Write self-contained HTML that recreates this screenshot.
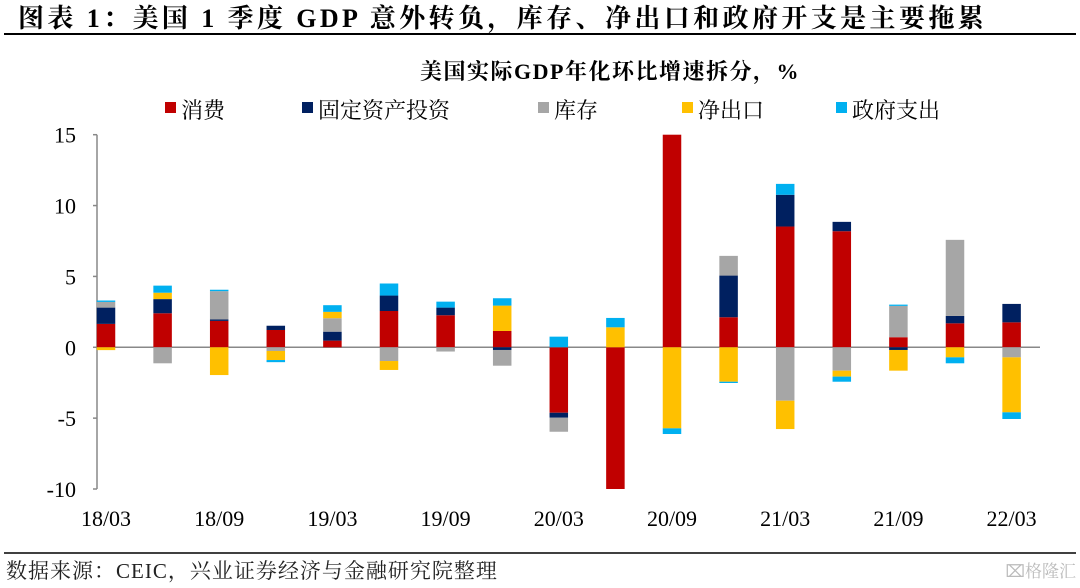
<!DOCTYPE html>
<html><head><meta charset="utf-8"><style>
body{margin:0;background:#fff;width:1080px;height:583px;overflow:hidden;font-family:"Liberation Serif","Noto Serif CJK SC",serif;}
</style></head><body>
<svg id="chart" width="1080" height="583" xmlns="http://www.w3.org/2000/svg" font-family="'Liberation Serif','Noto Serif CJK SC',serif">
<text x="18" y="27" font-size="26" font-weight="bold" letter-spacing="3.4" fill="#000">图表 1：美国 1 季度 GDP 意外转负，库存、净出口和政府开支是主要拖累</text>
<line x1="4" y1="34" x2="1076" y2="34" stroke="#000" stroke-width="2"/>
<text x="610" y="79" font-size="22" font-weight="bold" letter-spacing="1.5" text-anchor="middle">美国实际GDP年化环比增速拆分，%</text>
<g id="legend"></g>
<g id="axes"></g>
<g id="bars"></g>
<line x1="4" y1="553" x2="1076" y2="553" stroke="#000" stroke-width="1.5"/>
<text x="6" y="578" font-size="21" letter-spacing="1" fill="#222">数据来源：CEIC，兴业证券经济与金融研究院整理</text>
<text x="1076" y="577" font-size="17" text-anchor="end" fill="#bbb">⌧格隆汇</text>
</svg>
<script>
const categories=["18/03","18/06","18/09","18/12","19/03","19/06","19/09","19/12","20/03","20/06","20/09","20/12","21/03","21/06","21/09","21/12","22/03"];
const seriesNames=["消费","固定资产投资","库存","净出口","政府支出"];
const consumption=[1.65,2.4,1.86,1.22,0.47,2.56,2.26,1.15,-4.62,-24.0,25.0,2.12,8.52,8.19,0.71,1.69,1.76];
const investment=[1.15,1.0,0.1,0.3,0.63,1.09,0.54,-0.19,-0.35,-5.5,5.0,2.94,2.24,0.66,-0.19,0.52,1.3];
const inventory=[0.4,-1.13,2.0,-0.26,0.95,-0.97,-0.3,-1.11,-0.99,-4.0,6.6,1.39,-3.77,-1.65,2.21,5.37,-0.71];
const netExports=[-0.2,0.45,-1.96,-0.64,0.45,-0.63,0,1.79,0,1.41,-5.72,-2.43,-2.0,-0.42,-1.46,-0.71,-3.88];
const government=[0.1,0.5,0.1,-0.15,0.47,0.85,0.42,0.52,0.75,0.66,-0.4,-0.09,0.77,-0.36,0.09,-0.42,-0.47];
const yTicks=[15,10,5,0,-5,-10];
const colors=["#C00000","#002060","#A6A6A6","#FFC000","#00B0F0"];
const NS="http://www.w3.org/2000/svg";
const yMin=-10,yMax=15,yTop=134.7,yBottom=489;
const y=v=>yBottom-(Math.max(yMin,Math.min(yMax,v))-yMin)/(yMax-yMin)*(yBottom-yTop);
const x0=106,step=56.6,bw=18.5;
const x=i=>x0+i*step;
function mk(t,a,p){const e=document.createElementNS(NS,t);for(const k in a)e.setAttribute(k,a[k]);p.appendChild(e);return e;}
const axes=document.getElementById('axes'),bars=document.getElementById('bars'),leg=document.getElementById('legend');
const axl=mk('line',{x1:97,y1:yTop,x2:97,y2:yBottom,stroke:'#888','stroke-width':1.5},axes);


yTicks.forEach(v=>{
 const t=mk('line',{x1:93,y1:y(v),x2:97,y2:y(v),stroke:'#888','stroke-width':1.5},axes);
 
 
 const l=mk('text',{x:76,y:y(v)+8,'font-size':22,'text-anchor':'end'},axes);
 l.textContent=v;
 
 
});
categories.forEach((c,i)=>{
 if(i%2)return;
 const l=mk('text',{x:x(i),y:526,'font-size':22,'text-anchor':'middle'},axes);
 l.textContent=c;
 
 
});
const series=[consumption,investment,inventory,netExports,government];
categories.forEach((c,i)=>{
 let pos=0,neg=0;
 series.forEach((s,k)=>{
  const v=s[i];if(!v)return;
  let a,b;
  if(v>0){a=pos;b=pos+v;pos=b;}else{a=neg;b=neg+v;neg=b;}
  const y1=y(Math.max(a,b)),y2=y(Math.min(a,b));
  if(y2-y1<=0)return;
  const r=mk('rect',{x:x(i)-bw/2,y:y1,width:bw,height:y2-y1,fill:colors[k]},bars);
  
  
 });
});
const zl=mk('line',{x1:97,y1:y(0),x2:1040,y2:y(0),stroke:'#888','stroke-width':1.5},axes);


const lx=[165,302,538,682,836];
seriesNames.forEach((n,k)=>{
 const r=mk('rect',{x:lx[k],y:102,width:11,height:11,fill:colors[k]},leg);
 
 
 const t=mk('text',{x:lx[k]+16,y:118,'font-size':22},leg);
 t.textContent=n;
 
 
});
</script>
</body></html>
